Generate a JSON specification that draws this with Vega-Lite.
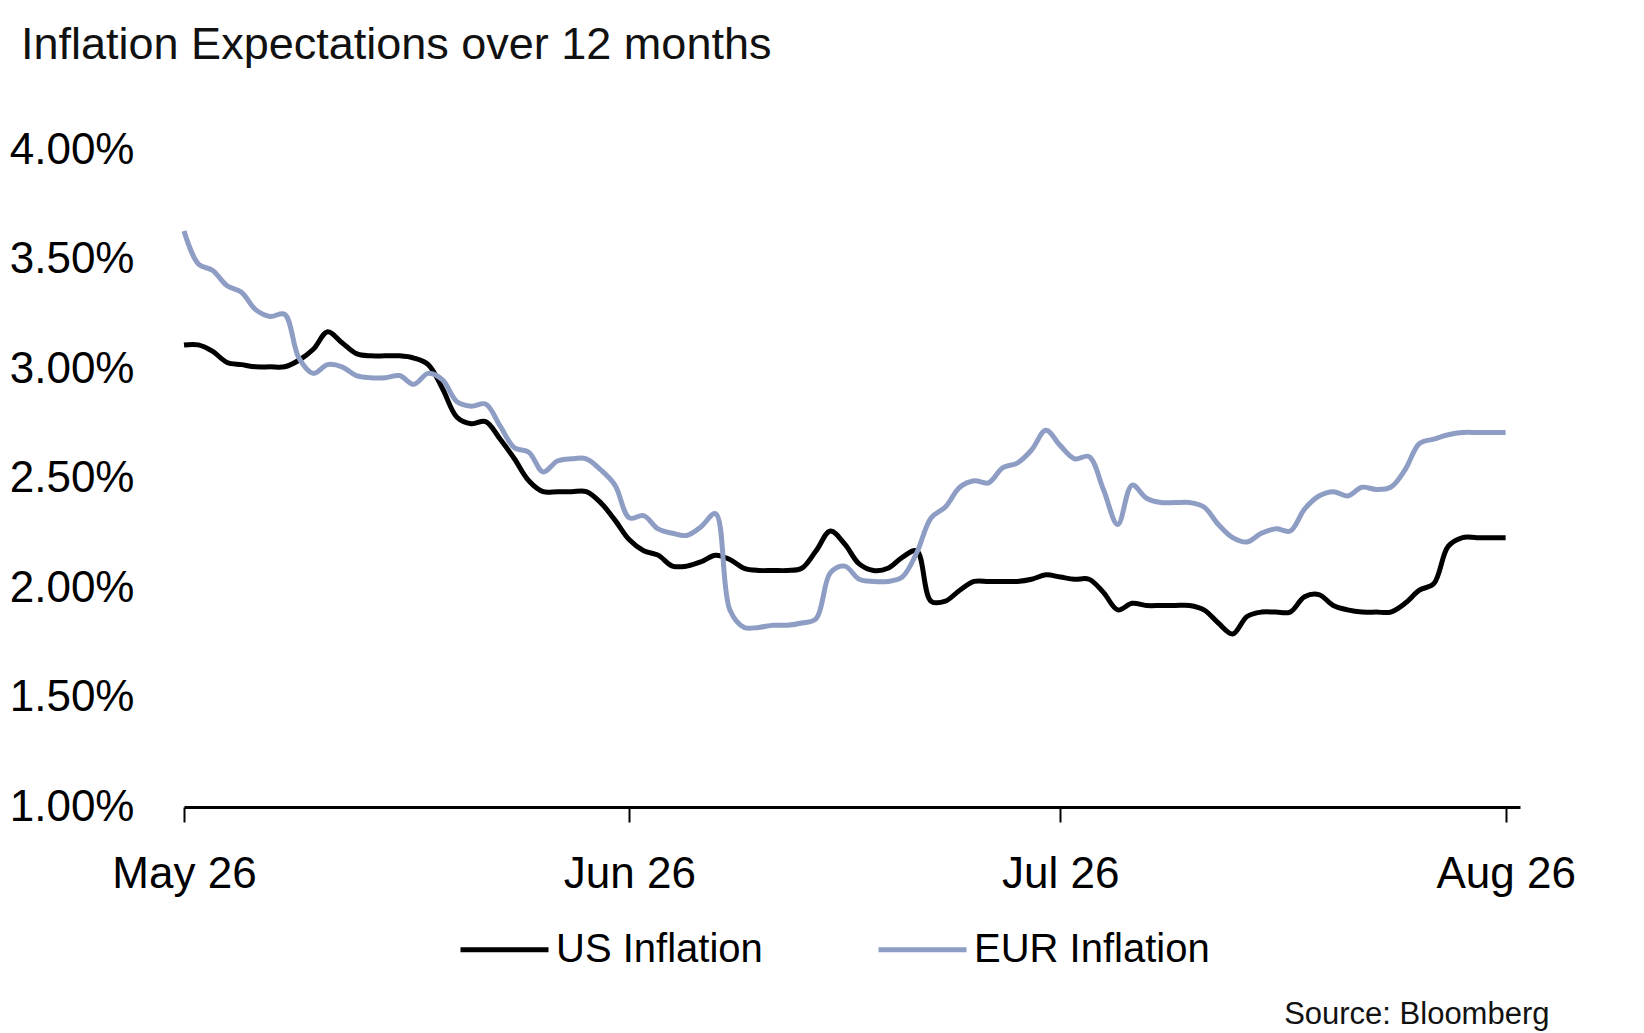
{
  "$schema": "https://vega.github.io/schema/vega-lite/v6.json",
  "autosize": {"type": "none"},
  "width": 1336,
  "height": 657,
  "padding": {"left": 184, "top": 150, "right": 124, "bottom": 226},
  "background": "white",
  "config": {
    "font": "Liberation Sans",
    "view": {"stroke": null}
  },
  "title": {
    "text": "Inflation Expectations over 12 months",
    "anchor": "start",
    "frame": "group",
    "dx": -163,
    "offset": 0,
    "baseline": "alphabetic",
    "dy": -24,
    "fontSize": 45,
    "fontWeight": "normal",
    "color": "#111111"
  },
  "data": {"values": [
    {"date": "2025-05-26", "US Inflation": 3.11, "EUR Inflation": 3.63},
    {"date": "2025-05-27", "US Inflation": 3.11, "EUR Inflation": 3.48},
    {"date": "2025-05-28", "US Inflation": 3.08, "EUR Inflation": 3.45},
    {"date": "2025-05-29", "US Inflation": 3.03, "EUR Inflation": 3.38},
    {"date": "2025-05-30", "US Inflation": 3.02, "EUR Inflation": 3.35},
    {"date": "2025-05-31", "US Inflation": 3.01, "EUR Inflation": 3.27},
    {"date": "2025-06-01", "US Inflation": 3.01, "EUR Inflation": 3.24},
    {"date": "2025-06-02", "US Inflation": 3.01, "EUR Inflation": 3.25},
    {"date": "2025-06-03", "US Inflation": 3.04, "EUR Inflation": 3.05},
    {"date": "2025-06-04", "US Inflation": 3.09, "EUR Inflation": 2.98},
    {"date": "2025-06-05", "US Inflation": 3.17, "EUR Inflation": 3.02},
    {"date": "2025-06-06", "US Inflation": 3.12, "EUR Inflation": 3.01},
    {"date": "2025-06-07", "US Inflation": 3.07, "EUR Inflation": 2.97},
    {"date": "2025-06-08", "US Inflation": 3.06, "EUR Inflation": 2.96},
    {"date": "2025-06-09", "US Inflation": 3.06, "EUR Inflation": 2.96},
    {"date": "2025-06-10", "US Inflation": 3.06, "EUR Inflation": 2.97},
    {"date": "2025-06-11", "US Inflation": 3.05, "EUR Inflation": 2.93},
    {"date": "2025-06-12", "US Inflation": 3.02, "EUR Inflation": 2.98},
    {"date": "2025-06-13", "US Inflation": 2.91, "EUR Inflation": 2.95},
    {"date": "2025-06-14", "US Inflation": 2.78, "EUR Inflation": 2.85},
    {"date": "2025-06-15", "US Inflation": 2.75, "EUR Inflation": 2.83},
    {"date": "2025-06-16", "US Inflation": 2.76, "EUR Inflation": 2.84},
    {"date": "2025-06-17", "US Inflation": 2.68, "EUR Inflation": 2.74},
    {"date": "2025-06-18", "US Inflation": 2.59, "EUR Inflation": 2.64},
    {"date": "2025-06-19", "US Inflation": 2.49, "EUR Inflation": 2.62},
    {"date": "2025-06-20", "US Inflation": 2.44, "EUR Inflation": 2.53},
    {"date": "2025-06-21", "US Inflation": 2.44, "EUR Inflation": 2.58},
    {"date": "2025-06-22", "US Inflation": 2.44, "EUR Inflation": 2.59},
    {"date": "2025-06-23", "US Inflation": 2.44, "EUR Inflation": 2.59},
    {"date": "2025-06-24", "US Inflation": 2.39, "EUR Inflation": 2.54},
    {"date": "2025-06-25", "US Inflation": 2.31, "EUR Inflation": 2.47},
    {"date": "2025-06-26", "US Inflation": 2.22, "EUR Inflation": 2.32},
    {"date": "2025-06-27", "US Inflation": 2.17, "EUR Inflation": 2.33},
    {"date": "2025-06-28", "US Inflation": 2.15, "EUR Inflation": 2.27},
    {"date": "2025-06-29", "US Inflation": 2.10, "EUR Inflation": 2.25},
    {"date": "2025-06-30", "US Inflation": 2.10, "EUR Inflation": 2.24},
    {"date": "2025-07-01", "US Inflation": 2.12, "EUR Inflation": 2.28},
    {"date": "2025-07-02", "US Inflation": 2.15, "EUR Inflation": 2.34},
    {"date": "2025-07-03", "US Inflation": 2.13, "EUR Inflation": 1.90},
    {"date": "2025-07-04", "US Inflation": 2.09, "EUR Inflation": 1.82},
    {"date": "2025-07-05", "US Inflation": 2.08, "EUR Inflation": 1.82},
    {"date": "2025-07-06", "US Inflation": 2.08, "EUR Inflation": 1.83},
    {"date": "2025-07-07", "US Inflation": 2.08, "EUR Inflation": 1.83},
    {"date": "2025-07-08", "US Inflation": 2.09, "EUR Inflation": 1.84},
    {"date": "2025-07-09", "US Inflation": 2.17, "EUR Inflation": 1.86},
    {"date": "2025-07-10", "US Inflation": 2.26, "EUR Inflation": 2.07},
    {"date": "2025-07-11", "US Inflation": 2.20, "EUR Inflation": 2.10},
    {"date": "2025-07-12", "US Inflation": 2.11, "EUR Inflation": 2.04},
    {"date": "2025-07-13", "US Inflation": 2.08, "EUR Inflation": 2.03},
    {"date": "2025-07-14", "US Inflation": 2.09, "EUR Inflation": 2.03},
    {"date": "2025-07-15", "US Inflation": 2.14, "EUR Inflation": 2.05},
    {"date": "2025-07-16", "US Inflation": 2.17, "EUR Inflation": 2.16},
    {"date": "2025-07-17", "US Inflation": 1.94, "EUR Inflation": 2.32},
    {"date": "2025-07-18", "US Inflation": 1.94, "EUR Inflation": 2.37},
    {"date": "2025-07-19", "US Inflation": 1.99, "EUR Inflation": 2.46},
    {"date": "2025-07-20", "US Inflation": 2.03, "EUR Inflation": 2.49},
    {"date": "2025-07-21", "US Inflation": 2.03, "EUR Inflation": 2.48},
    {"date": "2025-07-22", "US Inflation": 2.03, "EUR Inflation": 2.55},
    {"date": "2025-07-23", "US Inflation": 2.03, "EUR Inflation": 2.57},
    {"date": "2025-07-24", "US Inflation": 2.04, "EUR Inflation": 2.63},
    {"date": "2025-07-25", "US Inflation": 2.06, "EUR Inflation": 2.72},
    {"date": "2025-07-26", "US Inflation": 2.05, "EUR Inflation": 2.65},
    {"date": "2025-07-27", "US Inflation": 2.04, "EUR Inflation": 2.59},
    {"date": "2025-07-28", "US Inflation": 2.04, "EUR Inflation": 2.60},
    {"date": "2025-07-29", "US Inflation": 1.98, "EUR Inflation": 2.45},
    {"date": "2025-07-30", "US Inflation": 1.90, "EUR Inflation": 2.29},
    {"date": "2025-07-31", "US Inflation": 1.93, "EUR Inflation": 2.47},
    {"date": "2025-08-01", "US Inflation": 1.92, "EUR Inflation": 2.41},
    {"date": "2025-08-02", "US Inflation": 1.92, "EUR Inflation": 2.39},
    {"date": "2025-08-03", "US Inflation": 1.92, "EUR Inflation": 2.39},
    {"date": "2025-08-04", "US Inflation": 1.92, "EUR Inflation": 2.39},
    {"date": "2025-08-05", "US Inflation": 1.90, "EUR Inflation": 2.37},
    {"date": "2025-08-06", "US Inflation": 1.84, "EUR Inflation": 2.29},
    {"date": "2025-08-07", "US Inflation": 1.79, "EUR Inflation": 2.23},
    {"date": "2025-08-08", "US Inflation": 1.87, "EUR Inflation": 2.21},
    {"date": "2025-08-09", "US Inflation": 1.89, "EUR Inflation": 2.25},
    {"date": "2025-08-10", "US Inflation": 1.89, "EUR Inflation": 2.27},
    {"date": "2025-08-11", "US Inflation": 1.89, "EUR Inflation": 2.26},
    {"date": "2025-08-12", "US Inflation": 1.96, "EUR Inflation": 2.36},
    {"date": "2025-08-13", "US Inflation": 1.97, "EUR Inflation": 2.42},
    {"date": "2025-08-14", "US Inflation": 1.92, "EUR Inflation": 2.44},
    {"date": "2025-08-15", "US Inflation": 1.90, "EUR Inflation": 2.42},
    {"date": "2025-08-16", "US Inflation": 1.89, "EUR Inflation": 2.46},
    {"date": "2025-08-17", "US Inflation": 1.89, "EUR Inflation": 2.45},
    {"date": "2025-08-18", "US Inflation": 1.89, "EUR Inflation": 2.46},
    {"date": "2025-08-19", "US Inflation": 1.93, "EUR Inflation": 2.54},
    {"date": "2025-08-20", "US Inflation": 1.99, "EUR Inflation": 2.66},
    {"date": "2025-08-21", "US Inflation": 2.02, "EUR Inflation": 2.68},
    {"date": "2025-08-22", "US Inflation": 2.19, "EUR Inflation": 2.70},
    {"date": "2025-08-23", "US Inflation": 2.23, "EUR Inflation": 2.71},
    {"date": "2025-08-24", "US Inflation": 2.23, "EUR Inflation": 2.71},
    {"date": "2025-08-25", "US Inflation": 2.23, "EUR Inflation": 2.71},
    {"date": "2025-08-26", "US Inflation": 2.23, "EUR Inflation": 2.71}
  ]},
  "transform": [
    {"fold": ["US Inflation", "EUR Inflation"], "as": ["series", "value"]}
  ],
  "mark": {"type": "line", "interpolate": "catmull-rom", "strokeWidth": 5},
  "encoding": {
    "x": {
      "field": "date",
      "type": "temporal",
      "scale": {
        "type": "utc",
        "domain": [
          {"year": 2025, "month": 5, "date": 26, "utc": true},
          {"year": 2025, "month": 8, "date": 27, "utc": true}
        ]
      },
      "axis": {
        "values": [
          {"year": 2025, "month": 5, "date": 26, "utc": true},
          {"year": 2025, "month": 6, "date": 26, "utc": true},
          {"year": 2025, "month": 7, "date": 26, "utc": true},
          {"year": 2025, "month": 8, "date": 26, "utc": true}
        ],
        "format": "%b %d",
        "grid": false,
        "domainColor": "#000000",
        "domainWidth": 3,
        "tickColor": "#000000",
        "tickWidth": 2,
        "tickSize": 15,
        "labelFontSize": 44,
        "labelColor": "#000000",
        "labelPadding": 30,
        "labelFlush": false,
        "labelOverlap": false,
        "title": "Source: Bloomberg",
        "titleX": 1365,
        "titleY": 216,
        "titleAlign": "right",
        "titleBaseline": "alphabetic",
        "titleFontSize": 31,
        "titleFontWeight": "normal",
        "titleColor": "#111111"
      }
    },
    "y": {
      "field": "value",
      "type": "quantitative",
      "scale": {"domain": [1, 4], "nice": false, "zero": false},
      "axis": {
        "values": [1, 1.5, 2, 2.5, 3, 3.5, 4],
        "labelExpr": "format(datum.value, '.2f') + '%'",
        "grid": false,
        "domain": false,
        "ticks": false,
        "labelFontSize": 44,
        "labelColor": "#000000",
        "labelPadding": 50,
        "title": null
      }
    },
    "color": {
      "field": "series",
      "type": "nominal",
      "scale": {
        "domain": ["US Inflation", "EUR Inflation"],
        "range": ["#000000", "#8e9dc4"]
      },
      "legend": {
        "orient": "none",
        "legendX": 274,
        "legendY": 753,
        "direction": "horizontal",
        "title": null,
        "symbolType": "stroke",
        "symbolSize": 7744,
        "symbolStrokeWidth": 5,
        "labelFontSize": 40,
        "labelColor": "#000000",
        "labelOffset": 5,
        "columnPadding": 105,
        "labelLimit": 400
      }
    }
  }
}
